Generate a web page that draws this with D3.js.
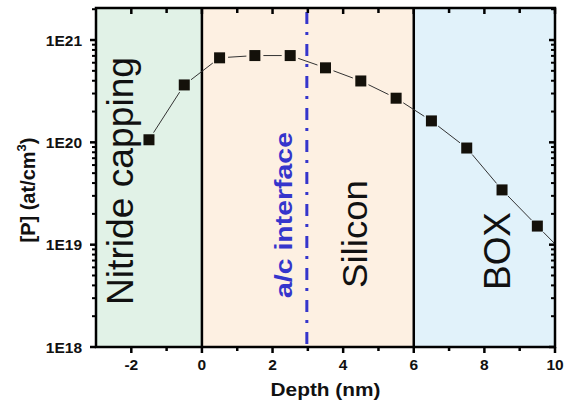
<!DOCTYPE html>
<html><head><meta charset="utf-8">
<script src="https://cdn.jsdelivr.net/npm/d3@7"></script>
<style>body{margin:0;background:#fff}svg{display:block}text{font-family:Arial,"Liberation Sans",sans-serif}</style>
</head><body><svg id="c" width="564" height="406"></svg>
<script>
// Data
const depth = [-1.5,-0.5,0.5,1.5,2.5,3.5,4.5,5.5,6.5,7.5,8.5,9.5];
const conc  = [1.06e20,3.64e20,6.7e20,7.05e20,7.05e20,5.35e20,3.98e20,2.7e20,1.62e20,8.8e19,3.43e19,1.52e19];
const tailDepth = [10.5];
const tailConc = [6.8e18];
const regionNames = ["Nitride capping","Silicon","BOX"];
const regionStart = [-3,0,6];
const regionEnd = [0,6,10];
const regionColors = ["#e1f2e7","#fdf0e2","#e1f2fa"];
const boundaries = [0,6];
const interfaceX = [3];
const interfaceLabel = "a/c interface";
const xTicks = [-2,0,2,4,6,8,10];
const xMinorTicks = [-3,-1,1,3,5,7,9];
const yTicks = [1e18,1e19,1e20,1e21];
const yTickLabels = ["1E18","1E19","1E20","1E21"];

const svg = d3.select("#c");
const L=96, R=555, T=8, B=347;
const x = d3.scaleLinear().domain([-3,10]).range([L,R]);
const y = d3.scaleLog().domain([1e18, Math.pow(10,21.313)]).range([B,T]);

// regions
svg.selectAll("rect.reg").data(regionStart).enter().append("rect")
  .attr("x",(d)=>x(d)).attr("y",T).attr("width",(d,i)=>x(regionEnd[i])-x(d)).attr("height",B-T)
  .attr("fill",(d,i)=>regionColors[i]);

// boundary lines
svg.selectAll("line.bd").data(boundaries).enter().append("line")
  .attr("x1",d=>x(d)).attr("x2",d=>x(d)).attr("y1",T).attr("y2",B)
  .attr("stroke","#000").attr("stroke-width",2.5);

// interface line
svg.selectAll("line.if").data(interfaceX).enter().append("line")
  .attr("x1",d=>x(d)-1).attr("x2",d=>x(d)-1).attr("y1",T).attr("y2",B)
  .attr("stroke","#3535cc").attr("stroke-width",3)
  .attr("stroke-dasharray","12,8,3,9").attr("stroke-dashoffset",28);

// line segments with gaps
const allX = depth.concat(tailDepth), allY = conc.concat(tailConc);
svg.append("clipPath").attr("id","pc").append("rect").attr("x",L).attr("y",T).attr("width",R-L).attr("height",B-T);
const gLine = svg.append("g").attr("clip-path","url(#pc)");
for(let i=0;i<allX.length-1;i++){
  const x1=x(allX[i]), y1=y(allY[i]), x2=x(allX[i+1]), y2=y(allY[i+1]);
  const dx=x2-x1, dy=y2-y1, len=Math.hypot(dx,dy), g=8.5;
  const ux=dx/len, uy=dy/len;
  gLine.append("line").attr("x1",x1+ux*g).attr("y1",y1+uy*g)
    .attr("x2",x2-ux*g).attr("y2",y2-uy*g)
    .attr("stroke","#333").attr("stroke-width",1);
}
// markers
svg.selectAll("rect.m").data(depth).enter().append("rect")
  .attr("x",d=>x(d)-5.5).attr("y",(d,i)=>y(conc[i])-5.5).attr("width",11).attr("height",11)
  .attr("fill","#14110a");

// region labels
const labelPos = [{bx:133,cy:181,fs:37,len:248},{bx:367,cy:234,fs:35,len:108},{bx:510,cy:251,fs:37,len:78}];
regionNames.forEach((n,i)=>{
  const p=labelPos[i];
  svg.append("text").attr("transform",`translate(${p.bx},${p.cy}) rotate(-90)`)
    .attr("text-anchor","middle").attr("font-size",p.fs).attr("fill","#111")
    .attr("textLength",p.len).attr("lengthAdjust","spacingAndGlyphs").text(n);
});
svg.append("text").attr("transform",`translate(292,215) rotate(-90)`)
  .attr("text-anchor","middle").attr("font-size",23).attr("font-weight","bold").attr("fill","#3535cc")
  .attr("textLength",166).attr("lengthAdjust","spacingAndGlyphs").text(interfaceLabel);

// axes frame
const ax = svg.append("g");
ax.append("rect").attr("x",L).attr("y",T).attr("width",R-L).attr("height",B-T)
  .attr("fill","none").attr("stroke","#000").attr("stroke-width",2.5);

// x ticks bottom (outward) and top (inward)
xTicks.forEach(t=>{
  ax.append("line").attr("x1",x(t)).attr("x2",x(t)).attr("y1",B).attr("y2",B+6).attr("stroke","#000").attr("stroke-width",2.5);
  ax.append("line").attr("x1",x(t)).attr("x2",x(t)).attr("y1",T).attr("y2",T+6).attr("stroke","#000").attr("stroke-width",2.5);
  ax.append("text").attr("x",x(t)).attr("y",370).attr("text-anchor","middle").attr("font-size",15.5).attr("font-weight","bold").attr("fill","#111").text(String(t));
});
xMinorTicks.forEach(t=>{
  if(t<=-3) return;
  ax.append("line").attr("x1",x(t)).attr("x2",x(t)).attr("y1",B).attr("y2",B+4).attr("stroke","#000").attr("stroke-width",2.5);
  ax.append("line").attr("x1",x(t)).attr("x2",x(t)).attr("y1",T).attr("y2",T+5).attr("stroke","#000").attr("stroke-width",2.5);
});
// y ticks
const ymax=y.domain()[1];
yTicks.forEach((t,i)=>{
  ax.append("line").attr("x1",L-6).attr("x2",L).attr("y1",y(t)).attr("y2",y(t)).attr("stroke","#000").attr("stroke-width",2.5);
  ax.append("line").attr("x1",R-6).attr("x2",R).attr("y1",y(t)).attr("y2",y(t)).attr("stroke","#000").attr("stroke-width",2.5);
  ax.append("text").attr("x",82).attr("y",y(t)+5.5).attr("text-anchor","end").attr("font-size",15.5).attr("font-weight","bold").attr("fill","#111").text(yTickLabels[i]);
  for(let k=2;k<=9;k++){
    const v=t*k; if(v>ymax) break;
    ax.append("line").attr("x1",L-4).attr("x2",L).attr("y1",y(v)).attr("y2",y(v)).attr("stroke","#000").attr("stroke-width",2);
    ax.append("line").attr("x1",R-4).attr("x2",R).attr("y1",y(v)).attr("y2",y(v)).attr("stroke","#000").attr("stroke-width",2);
  }
});

// axis titles
svg.append("text").attr("x",(L+R)/2).attr("y",396).attr("text-anchor","middle").attr("font-size",19).attr("font-weight","bold").attr("fill","#111")
  .attr("textLength",110).attr("lengthAdjust","spacingAndGlyphs").text("Depth (nm)");
const yl = svg.append("text").attr("transform","translate(35,190) rotate(-90)").attr("text-anchor","middle")
  .attr("font-size",20).attr("font-weight","bold").attr("fill","#111");
yl.append("tspan").text("[P] (at/cm");
yl.append("tspan").attr("font-size",13).attr("dy",-9).text("3");
yl.append("tspan").attr("dy",9).text(")");
</script></body></html>
